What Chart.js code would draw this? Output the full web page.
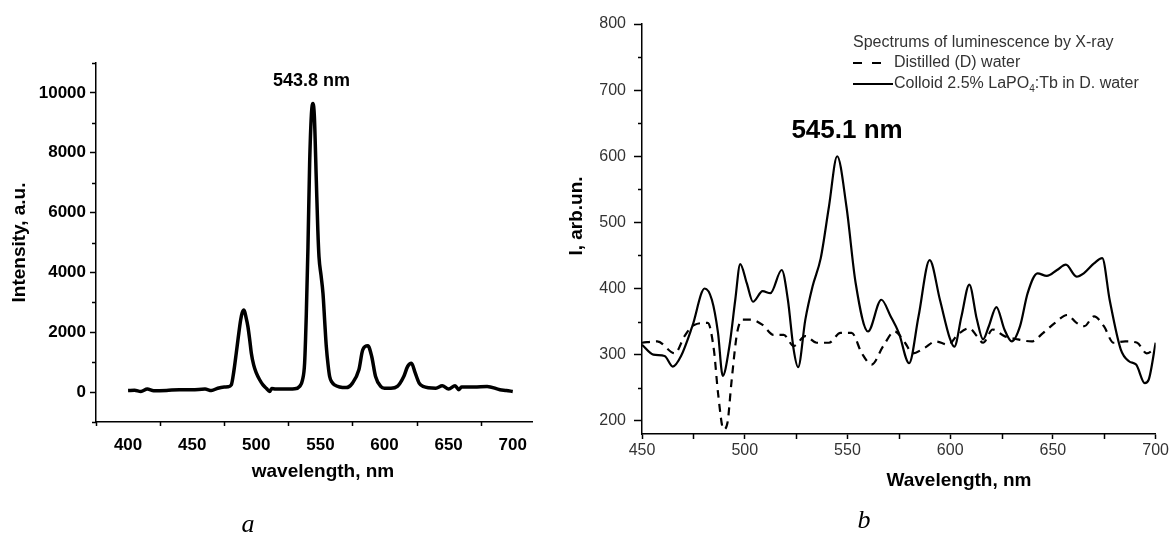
<!DOCTYPE html>
<html>
<head>
<meta charset="utf-8">
<script src="https://cdn.jsdelivr.net/npm/chart.js@4.4.1/dist/chart.umd.min.js"></script>
<style>
  body { margin: 0; background: #fff; }
  #chartA { position: absolute; left: 0; top: 0; }
  #chartB { position: absolute; left: 560px; top: 0; }
</style>
</head>
<body>
<canvas id="chartA" width="560" height="534"></canvas>
<canvas id="chartB" width="611" height="534"></canvas>
<script>
// ---- panel a: luminescence spectrum ----
const wavelengthA = [400, 405, 410, 415, 420, 430, 440, 450, 460, 465, 470, 475, 478, 480.5, 482.5, 484.4, 486, 487.8, 489, 490.4, 492, 493.5, 495, 496.1, 498, 500, 502.5, 505.2, 508, 510.4, 512, 515, 520, 530, 533.8, 536, 537.7, 539, 540.3, 541.6, 543, 544.2, 545.3, 546.8, 548, 548.9, 550.5, 552, 553.3, 554.6, 556, 557.2, 559, 561, 565, 570, 575, 580, 583, 587, 590, 593, 597, 600, 605, 610, 615, 618, 621, 624, 627, 630, 640, 645, 650, 655, 658, 660, 670, 680, 690, 695, 700];
const intensityA = [55, 60, 20, 100, 45, 55, 80, 80, 100, 50, 130, 170, 180, 240, 700, 1310, 1850, 2410, 2650, 2740, 2500, 2180, 1700, 1310, 900, 640, 420, 240, 120, 20, 120, 100, 100, 110, 190, 400, 980, 2600, 4850, 7640, 9300, 9650, 9200, 7080, 5400, 4520, 3900, 3300, 2400, 1520, 900, 520, 330, 240, 170, 150, 300, 745, 1410, 1545, 1190, 520, 190, 130, 130, 190, 520, 855, 960, 630, 300, 190, 130, 210, 100, 210, 80, 170, 170, 190, 80, 55, 20];
const xTicksA = [400, 450, 500, 550, 600, 650, 700];
const xMinorA = [375, 425, 475, 525, 575, 625, 675];
const yTicksA = [0, 2000, 4000, 6000, 8000, 10000];
const yMinorA = [-1000, 1000, 3000, 5000, 7000, 9000, 11000];

// ---- panel b: spectra by X-ray ----
const wavelengthDistilled = [450, 457.4, 466, 470.7, 475.4, 482, 485, 487, 489.7, 491.6, 493.5, 496.3, 499, 503, 508.7, 514, 519, 523.8, 529.5, 535, 541, 546.6, 552, 557, 561.8, 567.4, 573, 578, 581.7, 587.4, 593, 599, 603.6, 609.3, 613, 616, 620.7, 626.4, 633, 639.6, 645.3, 651, 657, 661.5, 665.3, 670, 674.8, 679.5, 685.2, 691, 695.6, 699.4];
const distilled = [318, 320, 302, 328, 345, 348, 307, 242, 187, 197, 257, 333, 353, 353, 345, 330, 330, 313, 328, 318, 318, 333, 333, 302, 285, 313, 335, 318, 302, 310, 320, 315, 330, 340, 328, 318, 338, 328, 323, 320, 333, 348, 360, 348, 343, 358, 343, 318, 320, 318, 302, 308];
const wavelengthColloid = [450, 455.5, 461, 465, 469, 474.5, 480.5, 484, 487, 489.3, 492.5, 495.4, 497.8, 501, 504, 508.7, 512.5, 518, 521, 523.8, 526, 529.5, 533, 537, 541, 545, 549.5, 554, 560, 566.5, 571, 575, 580, 584.6, 590, 595, 599.8, 602, 605.5, 609.3, 613, 616, 618.8, 622.5, 626.4, 630, 634, 637.7, 642.5, 647, 652, 656.3, 661.5, 665, 670, 674, 677.6, 683, 687, 690.5, 694.7, 696.6, 700];
const colloid = [315, 300, 298, 282, 298, 343, 400, 383, 333, 268, 312, 383, 437, 408, 380, 396, 393, 428, 383, 308, 281, 353, 403, 446, 524, 600, 524, 408, 335, 383, 358, 333, 287, 358, 443, 383, 325, 312, 358, 406, 353, 323, 343, 372, 338, 320, 343, 393, 423, 419, 428, 436, 418, 423, 438, 446, 383, 308, 290, 285, 257, 262, 318];
const xTicksB = [450, 500, 550, 600, 650, 700];
const xMinorB = [475, 525, 575, 625, 675];
const yTicksB = [200, 300, 400, 500, 600, 700, 800];
const yMinorB = [250, 350, 450, 550, 650, 750];
const legendTitleB = "Spectrums of luminescence by X-ray";

const SANS = "'Liberation Sans', Arial, sans-serif";
const SERIF = "'Liberation Serif', 'Times New Roman', serif";
Chart.defaults.font.family = SANS;

function toPoints(xs, ys) {
    return xs.map(function (x, i) { return { x: x, y: ys[i] }; });
}

// plain numbers, no thousands separator
function plainLabel(value) {
    return String(value);
}

// draws minor ticks, free text and (optionally) the legend of panel b
function decorPlugin(cfg) {
    return {
        id: 'decor',
        afterDraw: function (chart) {
            var ctx = chart.ctx;
            var xs = chart.scales.x, ys = chart.scales.y;
            var area = chart.chartArea;
            ctx.save();
            ctx.strokeStyle = '#000';
            ctx.lineWidth = 1.5;
            ctx.beginPath();
            cfg.minorX.forEach(function (v) {
                var p = Math.round(xs.getPixelForValue(v)) + 0.5;
                ctx.moveTo(p, area.bottom);
                ctx.lineTo(p, area.bottom + cfg.minorLenX);
            });
            cfg.minorY.forEach(function (v) {
                var p = Math.round(ys.getPixelForValue(v)) + 0.5;
                ctx.moveTo(area.left, p);
                ctx.lineTo(area.left - cfg.minorLenY, p);
            });
            ctx.stroke();

            cfg.texts.forEach(function (t) {
                var pos = t.at(chart);
                ctx.save();
                ctx.font = t.font;
                ctx.fillStyle = t.color || '#000';
                ctx.textAlign = t.align || 'center';
                ctx.textBaseline = t.baseline || 'middle';
                ctx.translate(pos[0], pos[1]);
                if (t.rotate) ctx.rotate(t.rotate);
                ctx.fillText(t.text, 0, 0);
                ctx.restore();
            });

            if (cfg.legend) cfg.legend(chart, ctx);
            ctx.restore();
        }
    };
}

function axisFont(size, weight) {
    return { family: SANS, size: size, weight: weight };
}

// ---------------- chart a ----------------
new Chart(document.getElementById('chartA'), {
    type: 'line',
    data: {
        datasets: [{
            label: 'Intensity',
            data: toPoints(wavelengthA, intensityA),
            borderColor: '#000',
            borderWidth: 3.5,
            pointRadius: 0,
            fill: false,
            cubicInterpolationMode: 'monotone'
        }]
    },
    options: {
        responsive: false,
        animation: false,
        layout: { padding: { left: 0, top: 63, right: 28, bottom: 0 } },
        plugins: { legend: { display: false }, tooltip: { enabled: false } },
        scales: {
            x: {
                type: 'linear',
                min: 375,
                max: 715,
                afterBuildTicks: function (s) { s.ticks = xTicksA.map(function (v) { return { value: v }; }); },
                afterFit: function (s) { s.height = 112; },
                grid: { display: false },
                border: { display: true, color: '#000', width: 1.5 },
                ticks: { color: '#000', font: axisFont(17, 'bold'), padding: 5, maxRotation: 0, autoSkip: false, callback: plainLabel }
            },
            y: {
                type: 'linear',
                min: -1000,
                max: 11000,
                afterBuildTicks: function (s) { s.ticks = yTicksA.map(function (v) { return { value: v }; }); },
                afterFit: function (s) { s.width = 96; },
                grid: { display: true, drawOnChartArea: false, drawTicks: true, tickLength: 6, tickColor: '#000', tickWidth: 1.5 },
                border: { display: true, color: '#000', width: 1.5 },
                ticks: { color: '#000', font: axisFont(17, 'bold'), padding: 4, autoSkip: false, callback: plainLabel }
            }
        }
    },
    plugins: [decorPlugin({
        minorX: xMinorA, minorLenX: 4,
        minorY: yMinorA, minorLenY: 4,
        texts: [
            { text: 'Intensity, a.u.', font: 'bold 19px ' + SANS, rotate: -Math.PI / 2,
              at: function (c) { return [20, (c.chartArea.top + c.chartArea.bottom) / 2]; } },
            { text: 'wavelength, nm', font: 'bold 19px ' + SANS,
              at: function (c) { return [323, 472]; } },
            { text: '543.8 nm', font: 'bold 18px ' + SANS,
              at: function (c) { return [c.scales.x.getPixelForValue(543), c.scales.y.getPixelForValue(10400)]; } },
            { text: 'a', font: 'italic 26px ' + SERIF, baseline: 'alphabetic',
              at: function (c) { return [248, 532]; } }
        ]
    })]
});

// ---------------- chart b ----------------
function drawLegendB(chart, ctx) {
    var sets = chart.data.datasets;
    var x0 = 293, xt = 334;
    ctx.fillStyle = '#333';
    ctx.font = '16px ' + SANS;
    ctx.textAlign = 'left';
    ctx.textBaseline = 'middle';
    ctx.fillText(legendTitleB, x0, 43);

    var rows = [63, 84];
    sets.forEach(function (ds, i) {
        var y = rows[i];
        ctx.save();
        ctx.strokeStyle = '#000';
        ctx.lineWidth = 2;
        ctx.setLineDash(ds.borderDash ? [9, 10] : []);
        ctx.beginPath();
        ctx.moveTo(x0, y);
        ctx.lineTo(ds.borderDash ? x0 + 29 : x0 + 40, y);
        ctx.stroke();
        ctx.restore();

        // label with a subscript digit
        var parts = ds.label.split('\u2084');
        var x = xt;
        ctx.font = '16px ' + SANS;
        ctx.fillText(parts[0], x, y);
        if (parts.length > 1) {
            x += ctx.measureText(parts[0]).width;
            ctx.font = '10px ' + SANS;
            ctx.fillText('4', x, y + 5);
            x += ctx.measureText('4').width;
            ctx.font = '16px ' + SANS;
            ctx.fillText(parts[1], x, y);
        }
    });
}

new Chart(document.getElementById('chartB'), {
    type: 'line',
    data: {
        datasets: [{
            label: 'Distilled (D) water',
            data: toPoints(wavelengthDistilled, distilled),
            borderColor: '#000',
            borderWidth: 2.2,
            borderDash: [8, 6],
            pointRadius: 0,
            fill: false,
            cubicInterpolationMode: 'monotone'
        }, {
            label: 'Colloid 2.5% LaPO\u2084:Tb in D. water',
            data: toPoints(wavelengthColloid, colloid),
            borderColor: '#000',
            borderWidth: 2.2,
            pointRadius: 0,
            fill: false,
            cubicInterpolationMode: 'monotone'
        }]
    },
    options: {
        responsive: false,
        animation: false,
        layout: { padding: { left: 0, top: 24, right: 14, bottom: 0 } },
        plugins: { legend: { display: false }, tooltip: { enabled: false } },
        scales: {
            x: {
                type: 'linear',
                min: 450,
                max: 700,
                afterBuildTicks: function (s) { s.ticks = xTicksB.map(function (v) { return { value: v }; }); },
                afterFit: function (s) { s.height = 100; },
                grid: { display: true, drawOnChartArea: false, drawTicks: true, tickLength: 5, tickColor: '#000', tickWidth: 1.5 },
                border: { display: true, color: '#000', width: 1.5 },
                ticks: { color: '#333', font: axisFont(16, 'normal'), padding: 2, maxRotation: 0, autoSkip: false, callback: plainLabel }
            },
            y: {
                type: 'linear',
                min: 180,
                max: 800,
                afterBuildTicks: function (s) { s.ticks = yTicksB.map(function (v) { return { value: v }; }); },
                afterFit: function (s) { s.width = 82; },
                grid: { display: true, drawOnChartArea: false, drawTicks: true, tickLength: 8, tickColor: '#000', tickWidth: 1.5 },
                border: { display: true, color: '#000', width: 1.5 },
                ticks: { color: '#333', font: axisFont(16, 'normal'), padding: 8, autoSkip: false, callback: plainLabel }
            }
        }
    },
    plugins: [decorPlugin({
        minorX: xMinorB, minorLenX: 5,
        minorY: yMinorB, minorLenY: 4,
        texts: [
            { text: 'I, arb.un.', font: 'bold 19px ' + SANS, rotate: -Math.PI / 2,
              at: function (c) { return [17, 216]; } },
            { text: 'Wavelength, nm', font: 'bold 19px ' + SANS,
              at: function (c) { return [399, 481]; } },
            { text: '545.1 nm', font: 'bold 26px ' + SANS,
              at: function (c) { return [c.scales.x.getPixelForValue(549.8), c.scales.y.getPixelForValue(639)]; } },
            { text: 'b', font: 'italic 26px ' + SERIF, baseline: 'alphabetic',
              at: function (c) { return [304, 528]; } }
        ],
        legend: drawLegendB
    })]
});
</script>
</body>
</html>
